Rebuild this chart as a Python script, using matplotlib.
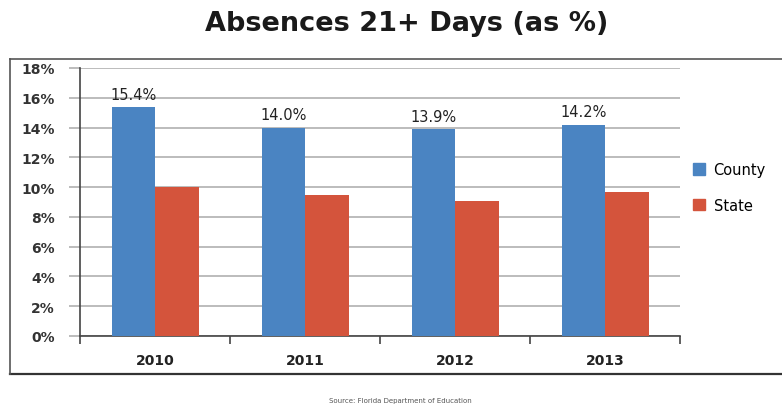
import numpy as np
import matplotlib.pyplot as plt
from matplotlib.patches import Rectangle
from matplotlib.lines import Line2D

years = ["2010", "2011", "2012", "2013"]
county = [15.4, 14.0, 13.9, 14.2]
state = [10.0, 9.5, 9.1, 9.7]
county_labels = ["15.4%", "14.0%", "13.9%", "14.2%"]
yticks = [0, 2, 4, 6, 8, 10, 12, 14, 16, 18]

blue = "#4A84C2"
red = "#D4543C"

fig = plt.figure(figsize=(7.82, 4.06), dpi=100)
ax = fig.add_axes([80 / 782, 69 / 406, 600 / 782, 268 / 406])

x = np.arange(len(years))
w = 0.29
ax.bar(x - w / 2, county, w, color=blue, label="County", zorder=3)
ax.bar(x + w / 2, state, w, color=red, label="State", zorder=3)

for xi, v, lab in zip(x, county, county_labels):
    ax.text(xi - w / 2, v + 0.35, lab, ha="center", va="bottom",
            fontsize=10.5, color="#222222")

ax.set_xlim(-0.5, len(years) - 0.5)
ax.set_ylim(0, 18)
ax.set_yticks(yticks)
ax.set_yticklabels([f"{t}%" for t in yticks], fontsize=10, fontweight="bold",
                   color="#333333")
ax.yaxis.grid(True, color="#b0b0b0", linewidth=1.2, zorder=0)
ax.tick_params(axis="y", length=8, color="#b0b0b0", width=1.2, pad=10)

ax.set_xticks(np.arange(-0.5, len(years), 1.0))
ax.set_xticklabels([])
ax.set_xticks(x, minor=True)
ax.set_xticklabels(years, minor=True, fontsize=10, fontweight="bold", color="#222222")
ax.tick_params(axis="x", which="major", length=6, color="#444444", width=1.2)
ax.tick_params(axis="x", which="minor", length=0, pad=12)

for s in ["top", "right"]:
    ax.spines[s].set_visible(False)
ax.spines["left"].set_color("#444444")
ax.spines["bottom"].set_color("#444444")
ax.spines["left"].set_linewidth(1.2)
ax.spines["bottom"].set_linewidth(1.2)

handles = [Rectangle((0, 0), 1, 1, color=blue), Rectangle((0, 0), 1, 1, color=red)]
fig.legend(handles, ["County", "State"], loc="upper left",
           bbox_to_anchor=(680 / 782, 1 - 150 / 406), frameon=False,
           fontsize=10.5, handlelength=0.8, handleheight=0.8,
           labelspacing=1.4, handletextpad=0.6)

# outer frame
fig.add_artist(Line2D([10 / 782, 1], [1 - 60 / 406] * 2, color="#555555", lw=1.2))
fig.add_artist(Line2D([10 / 782, 1], [1 - 375 / 406] * 2, color="#333333", lw=1.6))
fig.add_artist(Line2D([10 / 782] * 2, [1 - 60 / 406, 1 - 375 / 406], color="#555555", lw=1.2))

fig.text(407 / 782, 1 - 24 / 406, "Absences 21+ Days (as %)", ha="center",
         va="center", fontsize=19.5, fontweight="bold", family="DejaVu Sans",
         color="#1a1a1a")
fig.text(400 / 782, 1 - 401 / 406, "Source: Florida Department of Education",
         ha="center", va="center", fontsize=5, color="#555555")

fig.savefig("out.png", dpi=100)
